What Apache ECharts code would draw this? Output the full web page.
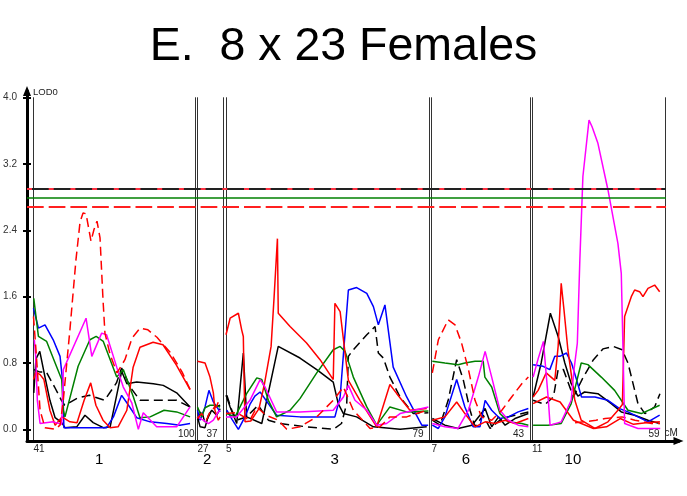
<!DOCTYPE html>
<html><head><meta charset="utf-8">
<script src="https://cdn.jsdelivr.net/npm/echarts@6/dist/echarts.min.js"></script>
<style>html,body{margin:0;padding:0;background:#fff}#c{width:687px;height:496px}</style>
</head><body><div id="c"></div>
<script>
// ---------- DATA ----------
const titleText = 'E.  8 x 23 Females';
const yTicks = [0, 0.8, 1.6, 2.4, 3.2, 4.0];
const chromNames = ['1', '2', '3', '6', '10'];
const cmStart = [41, 27, 5, 7, 11];
const cmEnd = [100, 37, 79, 43, 59];
const chromLabelAt = [65, 30.7, 44.5, 19.6, 25.7];
const thrBlack = 2.895, thrRedHi = 2.895, thrGreen = 2.79, thrRedLo = 2.685;

// chromosome 1 : [cM, LOD]
const c1_redDash = [[41,1.36],[41.9,0.96],[43.4,0.23],[45.2,0.02],[48.9,0],[50.7,0.05],[51.8,0.32],[54.3,1.20],[56.5,2.04],[58.0,2.50],[59.1,2.61],[60.2,2.60],[62.0,2.27],[63.1,2.41],[64.2,2.51],[65.3,2.31],[66.4,1.56],[67.1,1.16],[69.0,0.90],[71.5,0.68],[74.4,0.84],[77.0,1.10],[79.9,1.22],[82.8,1.20],[86.1,1.11],[90.9,0.93],[95.3,0.69],[98.2,0.48]];
const c1_red = [[41,0.60],[41.9,0.69],[43.4,0.66],[44.8,0.60],[47,0.23],[48.9,0.05],[51.4,0.15],[54.3,0.09],[56.9,0.08],[59.5,0.35],[61.9,0.56],[63.8,0.29],[66.4,0.11],[69,0.02],[71.9,0.03],[75.1,0.23],[77.4,0.75],[79.9,0.99],[84.7,1.05],[88.3,1.02],[93.1,0.78],[98.2,0.48]];
const c1_green = [[41.1,1.58],[42.8,1.12],[45.8,1.06],[48.9,0.80],[51.3,0.60],[51.9,0.23],[52.5,0.15],[57.3,0.76],[61.6,1.08],[63.9,1.12],[66.5,1.06],[71.4,0.63],[73.8,0.72],[77.5,0.39],[79.9,0.14],[83.6,0.15],[88.7,0.23],[93.3,0.21],[98.2,0.15]];
const c1_blue = [[41,1.46],[42.8,1.22],[45.2,1.26],[48.2,1.08],[50.7,0.88],[51.7,0.56],[52.1,0.02],[59.2,0.02],[67.7,0.02],[70.2,0.15],[73.2,0.41],[75.1,0.32],[78.7,0.14],[83.6,0.09],[89.7,0.07],[94.5,0.05],[98.2,0.07]];
const c1_magenta = [[41.3,1.08],[41.8,0.88],[42.4,0.35],[43.4,0.07],[48.2,0.09],[51.3,0.06],[51.9,0.72],[60.2,1.34],[62.3,0.88],[65.9,1.16],[67.7,1.14],[71.4,0.75],[73.8,0.51],[76.9,0.32],[79.3,0.0],[81.1,0.2],[86,0.03],[93.3,0.03],[98.2,0.27]];
const c1_black = [[41.1,0.44],[41.9,0.85],[43.3,0.94],[45.2,0.63],[47,0.35],[48.9,0.14],[51.3,0.08],[52.5,0.02],[56.8,0.03],[59.8,0.17],[62.8,0.08],[66.5,0.02],[69,0.03],[72,0.51],[73.2,0.70],[75.1,0.55],[78.7,0.57],[84.8,0.55],[88.4,0.53],[93.3,0.44],[98.2,0.27]];
const c1_blackDash = [[41.1,0.72],[43.4,0.69],[45.7,0.69],[48.7,0.51],[51.2,0.35],[52.4,0.29],[57.3,0.38],[61.5,0.41],[67,0.35],[71.3,0.56],[73.2,0.74],[76.3,0.51],[79.9,0.35],[84.8,0.35],[93.3,0.35],[98.2,0.27]];

// chromosome 2
const c2_red = [[27,0.82],[29.9,0.80],[31.8,0.63],[33.1,0.44],[33.7,0.23],[35,0.11],[35.7,0.15]];
const c2_redDash = [[27,0.13],[28.6,0.19],[30.4,0.11],[32.1,0.23],[34.2,0.27],[35.7,0.38]];
const c2_green = [[27,0.27],[28.6,0.15],[29.9,0.26],[31.8,0.29],[33.7,0.29],[35.7,0.27]];
const c2_blue = [[27,0.23],[28,0.11],[29.9,0.27],[31.4,0.47],[33.1,0.33],[34.4,0.27],[35.7,0.21]];
const c2_magenta = [[27,0.15],[29.2,0.11],[31.2,0.07],[33.1,0.11],[35,0.21],[35.7,0.23]];
const c2_black = [[27,0.15],[28,0.03],[29.9,0.02],[31.2,0.17],[32.5,0.23],[34.4,0.17],[35.7,0.25]];
const c2_blackDash = [[27,0.11],[28.6,0.23],[29.9,0.07],[31.8,0.19],[33.7,0.27],[35.7,0.29]];

// chromosome 3
const c3_red = [[5,1.14],[6.5,1.34],[9.5,1.40],[10.7,1.20],[11.3,1.12],[11.5,0.72],[11.9,0.09],[14,0.10],[17,0.25],[19,0.55],[21.4,1.0],[22.5,1.6],[23.7,2.30],[24,1.40],[28.3,1.24],[34.3,1.04],[39.2,0.84],[44,0.60],[44.6,1.52],[46.5,1.42],[48.3,0.92],[49.5,0.59],[53.7,0.35],[59.8,0.03],[64.6,0.54],[67.1,0.43],[71.9,0.23],[78,0.25]];
const c3_redDash = [[5,0.19],[8.9,0.20],[13.7,0.11],[16.2,0.27],[19.5,0.17],[24,0.11],[27.1,0.0],[31.9,0.03],[38,0.15],[44,0.35],[47.7,0.51],[51.3,0.23],[57.4,0.01],[61,0.03],[64.6,0.15],[70.7,0.15],[78,0.23]];
const c3_green = [[5.3,0.19],[8.3,0.15],[12.5,0.43],[16.2,0.62],[18,0.60],[20.4,0.35],[23.4,0.15],[28.3,0.23],[31.9,0.37],[38,0.68],[44,0.96],[46.5,1.0],[48.3,0.94],[51.3,0.63],[56.2,0.27],[59.8,0.05],[64.6,0.27],[70.7,0.21],[78.6,0.22]];
const c3_blue = [[5.3,0.23],[7.2,0.12],[9.5,0.0],[11.9,0.15],[13.7,0.30],[15.5,0.40],[17.4,0.45],[20.4,0.31],[23.4,0.17],[31.9,0.15],[44.6,0.15],[46.5,0.39],[49.5,1.68],[52.5,1.71],[56.2,1.64],[58.6,1.48],[60.4,1.26],[62.8,1.50],[64,1.20],[65.8,0.75],[70.7,0.39],[76.2,0.05],[78.5,0.05]];
const c3_magenta = [[5,0.15],[8.9,0.15],[13.7,0.35],[17.4,0.60],[19.2,0.51],[23.4,0.21],[31.9,0.21],[44,0.23],[47.7,0.39],[49.5,0.53],[51.9,0.35],[56.2,0.23],[59.8,0.05],[63.4,0.07],[68.3,0.19],[78.6,0.27]];
const c3_black = [[5,0.41],[6.5,0.27],[8.9,0.07],[11.3,0.92],[12.5,0.15],[18,0.07],[24,1.0],[31.9,0.86],[38,0.72],[44,0.57],[45.8,0.31],[47.7,0.19],[52.5,0.15],[58.6,0.03],[68.3,0.0],[78,0.03]];
const c3_blackDash = [[5.3,0.41],[7.1,0.23],[8.9,0.11],[12.5,0.15],[16.7,0.29],[20.4,0.11],[24.6,0.07],[34.3,0.03],[44,0.0],[47,0.07],[48.9,0.31],[49.5,0.88],[51.3,0.96],[56.2,1.14],[59.2,1.24],[60.4,0.92],[62.2,0.86],[64.6,0.63],[68.3,0.39],[73.1,0.19],[78.6,0.20]];

// chromosome 6
const c6_redDash = [[7.3,0.68],[9.5,1.08],[13.1,1.32],[15.6,1.26],[18,1.04],[20.5,0.72],[22.9,0.35],[25.3,0.15],[29,0.11],[32.7,0.23],[36.3,0.39],[40,0.55],[42.4,0.63]];
const c6_green = [[7.3,0.82],[11.9,0.80],[16.7,0.78],[19.2,0.80],[22.9,0.82],[25.9,0.82],[26.5,0.63],[29,0.51],[32,0.19],[35.1,0.09],[40,0.07],[42.4,0.05]];
const c6_magenta = [[7.3,0.07],[11.9,0.03],[16.7,0.01],[20.5,0.23],[24.1,0.63],[26.6,0.94],[29,0.63],[32,0.23],[35.1,0.11],[38.7,0.05],[42.4,0.03]];
const c6_blue = [[7.3,0.05],[9.5,0.01],[11.9,0.15],[16.2,0.60],[19.2,0.27],[22.2,0.03],[24.7,0.03],[26.6,0.35],[29,0.23],[32,0.13],[35.1,0.15],[38.7,0.21],[42.4,0.25]];
const c6_red = [[7.3,0.11],[11.9,0.15],[16.2,0.33],[19.2,0.19],[22.9,0.03],[26.6,0.09],[30.2,0.07],[33.9,0.11],[37.5,0.07],[42.4,0.13]];
const c6_black = [[7.3,0.13],[11.9,0.05],[16.7,0.01],[21.8,0.05],[24.7,0.17],[26.6,0.25],[29,0.03],[31.5,0.15],[33.9,0.05],[37.5,0.13],[42.4,0.19]];
const c6_blackDash = [[7.3,0.11],[10.1,0.05],[13.1,0.35],[16.2,0.84],[18.6,0.60],[21.1,0.23],[22.9,0.03],[25.9,0.17],[28.4,0.01],[32.7,0.13],[37.5,0.17],[42.4,0.21]];

// chromosome 10
const c10_magenta = [[11.4,0.63],[13.2,0.85],[15.1,1.06],[16.8,0.39],[17.5,0.05],[21.5,0.09],[25.1,0.35],[26.1,0.72],[27.3,1.04],[28.2,2.04],[29.3,3.05],[31.5,3.73],[32.6,3.65],[34.7,3.45],[38.3,2.89],[41.9,2.24],[43.1,1.88],[43.7,1.0],[44.3,0.07],[49.1,0.01],[57.1,0.01]];
const c10_red = [[11.4,0.39],[13.2,0.47],[16.1,0.68],[19.2,0.59],[20.4,1.0],[21.5,1.76],[22.5,1.44],[23.9,0.96],[26.4,0.35],[28.7,0.11],[33.6,0.01],[38.3,0.09],[41.9,0.23],[43.5,0.30],[44.3,1.36],[46.7,1.60],[47.9,1.68],[49.7,1.66],[50.9,1.60],[52.7,1.70],[55.1,1.74],[56.9,1.66]];
const c10_red2 = [[11.4,0.31],[16.2,0.39],[21.1,0.33],[25.9,0.11],[33.1,0.01],[37.8,0.03],[42.7,0.13],[47.5,0.06],[52,0.08],[57,0.09]];
const c10_redDash = [[26.5,0.08],[29.8,0.09],[34,0.11],[37.3,0.13],[43.3,0.15],[48,0.11],[54,0.07],[57,0.07]];
const c10_black = [[11.4,0.39],[14.3,0.80],[17.6,1.40],[20.4,1.12],[22.8,0.80],[25.1,0.55],[27.5,0.40],[29.9,0.45],[34.7,0.43],[39.5,0.31],[43.1,0.21],[47.9,0.17],[52.7,0.11],[56.9,0.07]];
const c10_blackDash = [[11.4,0.35],[15.7,0.30],[18.7,0.39],[20.4,0.72],[22.3,0.72],[25.9,0.39],[29.3,0.62],[33.1,0.84],[36.5,0.97],[40.2,1.0],[43.4,0.96],[45.5,0.80],[49.1,0.31],[51.6,0.19],[55.1,0.27],[57,0.43]];
const c10_blue = [[11.4,0.78],[15,0.76],[17.4,0.72],[19.2,0.88],[21,0.88],[23.4,0.92],[25.2,0.8],[27,0.6],[28.8,0.39],[33.6,0.39],[38.3,0.35],[42.5,0.25],[45.5,0.21],[49.1,0.15],[52.7,0.09],[56.9,0.17]];
const c10_green = [[11.4,0.05],[16.8,0.05],[21.5,0.07],[25.1,0.31],[28.7,0.80],[31.1,0.78],[35.9,0.63],[40.7,0.47],[45.5,0.23],[50.3,0.19],[56.9,0.29]];

// ---------- LAYOUT / STYLE ----------
const FONT = 'Liberation Sans, Arial, sans-serif';
const PANEL_TOP = 97.7, BOTTOM = 55;
const Y_MIN = -0.141, Y_MAX = 4.0;
const FRAME_TOP = 91, FRAME_YMAX = 4.081;
const panelBox = [[33.5,195],[197.5,223.5],[226,429.5],[431.5,530],[532,665.5]];
const END_LABEL_SHIFT = 17; // px, text anchor offset inside panel
const styles = {
  red: ['#ff0000','solid'], redDash: ['#ff0000',[9,5]], green: ['#008000','solid'],
  blue: ['#0000ff','solid'], magenta: ['#ff00ff','solid'], black: ['#000000','solid'],
  blackDash: ['#000000',[9,5]]
};
const panelSeries = [
  [[c1_black,'black'],[c1_blackDash,'blackDash'],[c1_blue,'blue'],[c1_green,'green'],[c1_red,'red'],[c1_magenta,'magenta'],[c1_redDash,'redDash']],
  [[c2_black,'black'],[c2_blackDash,'blackDash'],[c2_blue,'blue'],[c2_green,'green'],[c2_red,'red'],[c2_magenta,'magenta'],[c2_redDash,'redDash']],
  [[c3_black,'black'],[c3_blackDash,'blackDash'],[c3_blue,'blue'],[c3_green,'green'],[c3_red,'red'],[c3_magenta,'magenta'],[c3_redDash,'redDash']],
  [[c6_black,'black'],[c6_blackDash,'blackDash'],[c6_blue,'blue'],[c6_green,'green'],[c6_red,'red'],[c6_magenta,'magenta'],[c6_redDash,'redDash']],
  [[c10_black,'black'],[c10_blackDash,'blackDash'],[c10_blue,'blue'],[c10_green,'green'],[c10_red2,'red'],[c10_red,'red'],[c10_redDash,'redDash'],[c10_magenta,'magenta']]
];

const grid = [
  {left: 27, right: 8.5, top: FRAME_TOP, bottom: BOTTOM, outerBoundsMode: 'none'},
  {left: 27, right: 687 - 666, top: PANEL_TOP, bottom: BOTTOM, outerBoundsMode: 'none'}
];
const xAxis = [
  {gridIndex: 0, type: 'value', position: 'bottom', min: 0, max: 1,
   axisLine: {show: true, onZero: false, lineStyle: {color: '#000', width: 3}, symbol: ['none','triangle'], symbolSize: [8, 10]},
   axisTick: {show: false}, axisLabel: {show: false}, splitLine: {show: false},
   name: 'cM', nameLocation: 'end', nameGap: -14,
   nameTextStyle: {fontFamily: FONT, fontSize: 10, color: '#222', align: 'left', verticalAlign: 'bottom', padding: [0,0,3,0]}},
  {gridIndex: 1, type: 'value', position: 'bottom', min: 0, max: 1, show: false}
];
const yAxis = [
  {gridIndex: 0, type: 'value', position: 'left', min: Y_MIN, max: FRAME_YMAX,
   axisLine: {show: true, onZero: false, lineStyle: {color: '#000', width: 3}, symbol: ['none','triangle'], symbolSize: [8, 10]},
   axisTick: {show: true, length: 4, customValues: yTicks, lineStyle: {color: '#000', width: 2}},
   axisLabel: {customValues: yTicks, formatter: v => v.toFixed(1), fontFamily: FONT, fontSize: 10, color: '#333', margin: 10},
   splitLine: {show: false},
   name: 'LOD0', nameLocation: 'end', nameGap: -1.5,
   nameTextStyle: {fontFamily: FONT, fontSize: 9.5, color: '#222', align: 'left', verticalAlign: 'middle', padding: [0,0,0,6]}},
  {gridIndex: 0, type: 'value', position: 'left', min: Y_MIN, max: FRAME_YMAX,
   axisLine: {show: false, onZero: false},
   axisTick: {show: true, inside: true, length: 4, customValues: yTicks, lineStyle: {color: '#000', width: 2}},
   axisLabel: {show: false}, splitLine: {show: false}},
  {gridIndex: 1, type: 'value', position: 'left', min: Y_MIN, max: Y_MAX, show: false}
];
const series = [
  {type: 'line', xAxisIndex: 1, yAxisIndex: 2, data: [], silent: true,
   markLine: {symbol: 'none', silent: true, label: {show: false}, animation: false,
     data: [
       {yAxis: thrBlack, lineStyle: {color: '#222', width: 2, type: 'solid'}},
       {yAxis: thrRedHi, lineStyle: {color: '#ff3040', width: 2, type: [5, 16.7]}},
       {yAxis: thrGreen, lineStyle: {color: '#008000', width: 1.5, type: 'solid'}},
       {yAxis: thrRedLo, lineStyle: {color: '#ff2020', width: 2, type: [16.7, 5]}}
     ]}}
];

panelBox.forEach((b, i) => {
  grid.push({left: b[0], width: b[1] - b[0], top: PANEL_TOP, bottom: BOTTOM, outerBoundsMode: 'none'});
  const gi = grid.length - 1;
  const xi = xAxis.length;
  const cmPerPx = (cmEnd[i] - cmStart[i]) / (b[1] - b[0]);
  const endAnchor = cmEnd[i] - END_LABEL_SHIFT * cmPerPx;
  xAxis.push(
    {gridIndex: gi, type: 'value', position: 'bottom', min: cmStart[i], max: cmEnd[i],
     axisLine: {show: false, onZero: false}, axisTick: {show: false}, splitLine: {show: false},
     axisLabel: {customValues: [cmStart[i]], align: 'left',
       fontFamily: FONT, fontSize: 10, color: '#222', margin: 3}},
    {gridIndex: gi, type: 'value', position: 'bottom', min: cmStart[i], max: cmEnd[i],
     axisLine: {show: false, onZero: false}, axisTick: {show: false}, splitLine: {show: false},
     axisLabel: {inside: true, customValues: [endAnchor], formatter: () => String(cmEnd[i]), align: 'left',
       fontFamily: FONT, fontSize: 10, color: '#222', margin: 2}},
    {gridIndex: gi, type: 'value', position: 'bottom', min: cmStart[i], max: cmEnd[i],
     axisLine: {show: false, onZero: false}, axisTick: {show: false}, splitLine: {show: false},
     axisLabel: {customValues: [chromLabelAt[i]], formatter: () => chromNames[i], fontFamily: FONT, fontSize: 15, color: '#000', margin: 11}}
  );
  const yi = yAxis.length;
  yAxis.push(
    {gridIndex: gi, type: 'value', min: Y_MIN, max: Y_MAX, position: 'left',
     axisLine: {show: true, onZero: false, lineStyle: {color: '#333', width: 1}},
     axisTick: {show: false}, axisLabel: {show: false}, splitLine: {show: false}},
    {gridIndex: gi, type: 'value', min: Y_MIN, max: Y_MAX, position: 'right',
     axisLine: {show: true, onZero: false, lineStyle: {color: '#333', width: 1}},
     axisTick: {show: false}, axisLabel: {show: false}, splitLine: {show: false}}
  );
  panelSeries[i].forEach(([data, key]) => {
    series.push({type: 'line', xAxisIndex: xi, yAxisIndex: yi, data: data,
      showSymbol: false, symbol: 'none', silent: true, clip: true,
      lineStyle: {color: styles[key][0], type: styles[key][1], width: 1.5}});
  });
});

const chart = echarts.init(document.getElementById('c'), null, {renderer: 'canvas'});
chart.setOption({
  animation: false,
  backgroundColor: '#fff',
  textStyle: {fontFamily: FONT},
  title: {text: titleText, left: 'center', top: 19,
    textStyle: {fontFamily: FONT, fontSize: 46.5, fontWeight: 'normal', color: '#000'}},
  grid: grid, xAxis: xAxis, yAxis: yAxis, series: series
});
</script>
</body></html>
